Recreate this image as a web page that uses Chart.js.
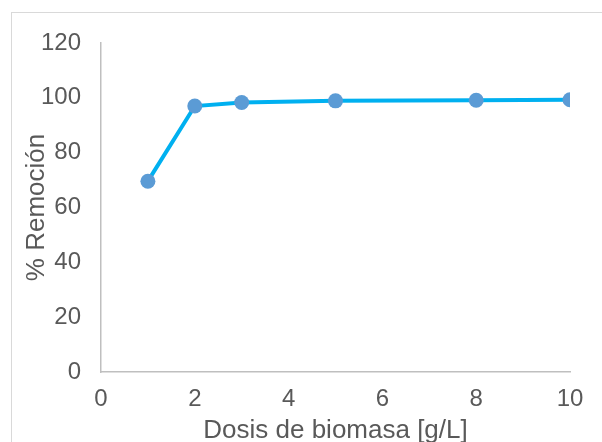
<!DOCTYPE html>
<html>
<head>
<meta charset="utf-8">
<script src="https://cdn.jsdelivr.net/npm/chart.js@4"></script>
<style>
  body { margin: 0; background: #fff; }
  #wrap { position: relative; width: 602px; height: 442px; }
  #frame { position: absolute; left: 11px; top: 12px; width: 600px; height: 440px; border: 1px solid #D9D9D9; }
  canvas { position: absolute; left: 0; top: 0; }
</style>
</head>
<body>
<div id="wrap">
  <div id="frame"></div>
  <canvas id="chartDosis" width="602" height="442"></canvas>
</div>
<script>
/*Removal % against biomass dose*/
const dosis = [1, 2, 3, 5, 8, 10];
const remocion = [69.6, 97.0, 98.3, 98.9, 99.1, 99.3];
const xTitle = "Dosis de biomasa [g/L]";
const yTitle = "% Remoción";

const textColor = "#595959";
const axisColor = "#BFBFBF";

var ctx = document.getElementById("chartDosis").getContext("2d");
var points = dosis.map((d, i) => ({ x: d, y: remocion[i] }));

var chartDosis = new Chart(ctx, {
    type: "scatter",
    data: {
        datasets: [{
            label: yTitle,
            data: points,
            showLine: true,
            borderColor: "#00B0F0",
            borderWidth: 4,
            pointRadius: 7.5,
            pointHoverRadius: 7.5,
            pointBackgroundColor: "#5B9BD5",
            pointBorderColor: "#5B9BD5",
            pointBorderWidth: 0
        }]
    },
    options: {
        responsive: false,
        animation: false,
        layout: { padding: { left: 0, top: 43, right: 32, bottom: 0 } },
        plugins: { legend: { display: false }, tooltip: { enabled: false } },
        scales: {
            x: {
                type: "linear",
                min: 0,
                max: 10,
                grid: { display: false, drawTicks: false },
                border: { display: true, color: axisColor, width: 1.5 },
                ticks: { stepSize: 2, color: textColor, padding: 13, font: { family: "Liberation Sans", size: 24 } },
                title: { display: true, text: xTitle, color: textColor, padding: { top: 0, bottom: -4 }, font: { family: "Liberation Sans", size: 26 } },
                afterFit: function (scale) { scale.height = 70; }
            },
            y: {
                min: 0,
                max: 120,
                grid: { display: false, drawTicks: false },
                border: { display: true, color: axisColor, width: 1.5 },
                ticks: { stepSize: 20, color: textColor, padding: 20, font: { family: "Liberation Sans", size: 24 } },
                title: { display: true, text: yTitle, color: textColor, padding: { top: 21, bottom: 0 }, font: { family: "Liberation Sans", size: 26 } },
                afterFit: function (scale) { scale.width = 101; }
            }
        }
    }
});
</script>
</body>
</html>
